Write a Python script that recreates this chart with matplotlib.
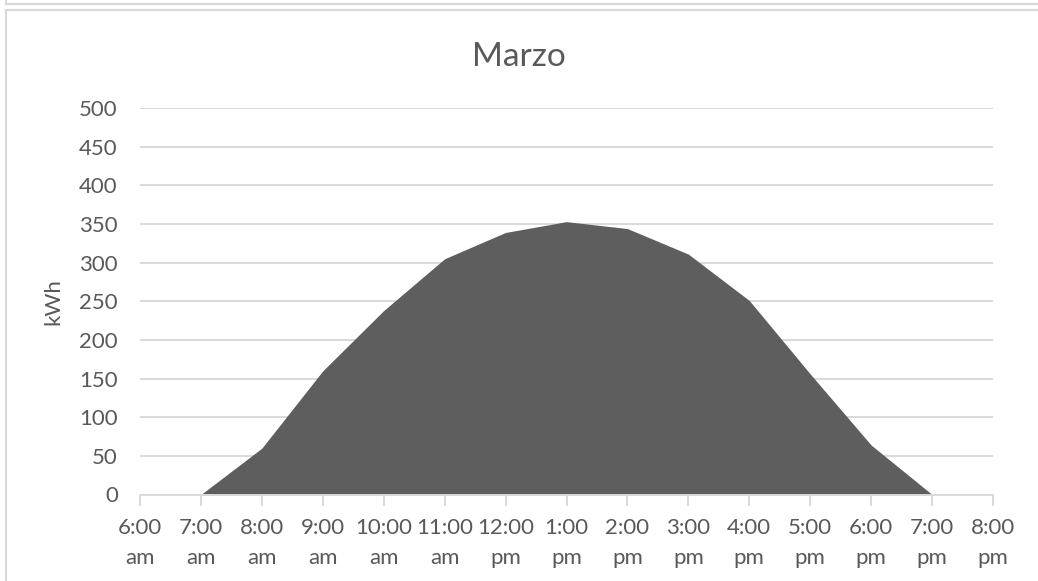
import numpy as np
import matplotlib.pyplot as plt
from matplotlib.lines import Line2D

# data
horas = ['6:00\nam', '7:00\nam', '8:00\nam', '9:00\nam', '10:00\nam', '11:00\nam',
         '12:00\npm', '1:00\npm', '2:00\npm', '3:00\npm', '4:00\npm', '5:00\npm',
         '6:00\npm', '7:00\npm', '8:00\npm']
energia = [np.nan, 0, 60, 160, 238, 305, 339, 353, 344, 311, 251, 156, 64, 0, np.nan]
y_ticks = [0, 50, 100, 150, 200, 250, 300, 350, 400, 450, 500]

plt.rcParams['font.family'] = ['Lato', 'DejaVu Sans']
gris_txt = '#595959'
gris_lin = '#d9d9d9'

fig = plt.figure(figsize=(10.38, 5.81), dpi=100)
ax = fig.add_axes([140 / 1038, 1 - 494.5 / 581, (993 - 140) / 1038, (494.5 - 108) / 581])

x = np.arange(len(horas))
y = np.array(energia, dtype=float)
mask = ~np.isnan(y)
ax.fill_between(x[mask], 0, y[mask], color='#5e5e5e', linewidth=0, zorder=2)

ax.set_xlim(0, len(horas) - 1)
ax.set_ylim(0, 500)
ax.set_yticks(y_ticks)
ax.set_xticks(x)
ax.set_xticklabels(horas, linespacing=1.6)
ax.grid(axis='y', color=gris_lin, linewidth=1.4, zorder=0)
ax.set_axisbelow(True)

for s in ['top', 'right', 'left']:
    ax.spines[s].set_visible(False)
ax.spines['bottom'].set_color(gris_lin)
ax.spines['bottom'].set_linewidth(1.4)
ax.tick_params(axis='x', length=8, width=1.4, color=gris_lin, labelcolor=gris_txt,
               labelsize=16, pad=9)
ax.tick_params(axis='y', length=0, labelcolor=gris_txt, labelsize=16, pad=16)

ax.set_ylabel('kWh', color=gris_txt, fontsize=16, labelpad=11)
fig.text(0.5, 1 - 57 / 581, 'Marzo', ha='center', va='center', color=gris_txt, fontsize=24)

# chart frame borders
fig.add_artist(Line2D([6 / 1038, 6 / 1038], [0, 1 - 10 / 581], color=gris_lin, linewidth=1.5))
fig.add_artist(Line2D([6 / 1038, 1], [1 - 10 / 581, 1 - 10 / 581], color=gris_lin, linewidth=1.5))
fig.add_artist(Line2D([6 / 1038, 1], [1 - 4 / 581, 1 - 4 / 581], color=gris_lin, linewidth=1.5))
fig.add_artist(Line2D([6 / 1038, 6 / 1038], [1 - 4 / 581, 1], color=gris_lin, linewidth=1.5))

fig.savefig('out.png', dpi=100)
